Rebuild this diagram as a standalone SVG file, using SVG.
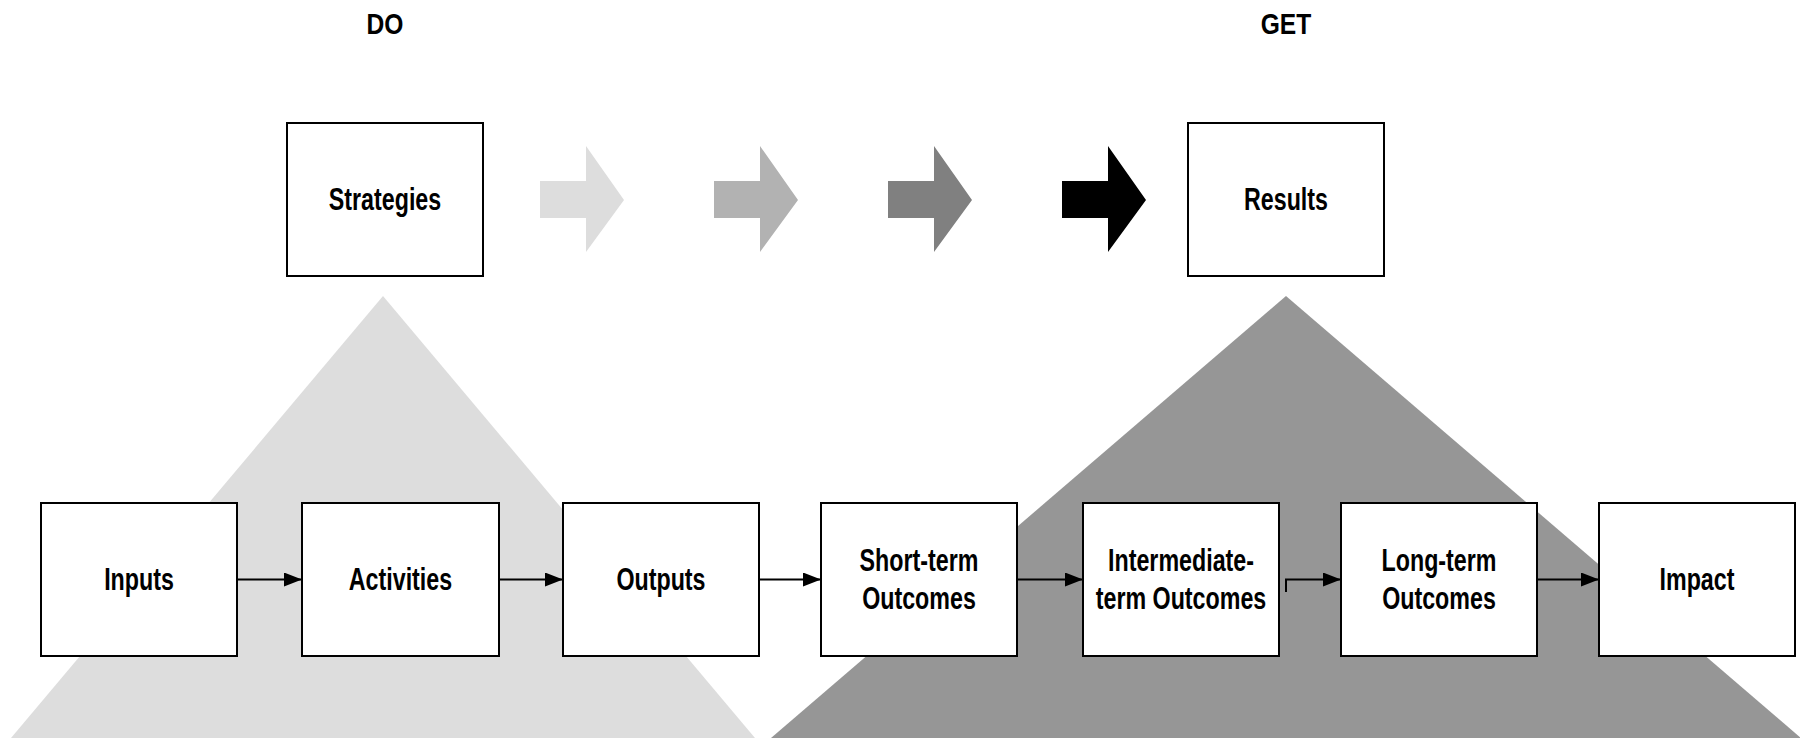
<svg xmlns="http://www.w3.org/2000/svg" width="1800" height="738" viewBox="0 0 1800 738">
<style>
.box{fill:#fff;stroke:#000;stroke-width:2}
.lbl{font-family:"Liberation Sans",Arial,sans-serif;font-weight:bold;font-size:31px;text-anchor:middle;fill:#000}
.hd{font-family:"Liberation Sans",Arial,sans-serif;font-weight:bold;font-size:30px;text-anchor:middle;fill:#000}
.conn{fill:none;stroke:#000;stroke-width:2;marker-end:url(#ah)}
</style>
<defs>
<marker id="ah" markerUnits="userSpaceOnUse" markerWidth="18" markerHeight="15" refX="18" refY="7" orient="auto">
<path d="M0,0 L18,7 L0,14 Z" fill="#000"/>
</marker>
</defs>
<rect width="1800" height="738" fill="#fff"/>
<g id="background">
<polygon points="383,296 11,738 755,738" fill="#dddddd"/>
<polygon points="1286,296 771,738 1801,738" fill="#969696"/>
<polygon points="540,181 586,181 586,146 624,200 586,252 586,218 540,218" fill="#dddddd"/>
<polygon points="714,181 760,181 760,146 798,200 760,252 760,218 714,218" fill="#b2b2b2"/>
<polygon points="888,181 934,181 934,146 972,200 934,252 934,218 888,218" fill="#808080"/>
<polygon points="1062,181 1108,181 1108,146 1146,200 1108,252 1108,218 1062,218" fill="#000000"/>
</g>
<g id="heading-do"><text class="hd" transform="translate(385,34) scale(0.82,1)">DO</text></g>
<g id="heading-get"><text class="hd" transform="translate(1286,34) scale(0.82,1)">GET</text></g>
<g id="strategies"><rect class="box" x="287" y="123" width="196" height="153"/><text class="lbl" transform="translate(385,210) scale(0.75,1)">Strategies</text></g>
<g id="results"><rect class="box" x="1188" y="123" width="196" height="153"/><text class="lbl" transform="translate(1286,210) scale(0.75,1)">Results</text></g>
<g id="connectors">
<path class="conn" d="M237,579.5 H302"/>
<path class="conn" d="M499,579.5 H563"/>
<path class="conn" d="M759,579.5 H821"/>
<path class="conn" d="M1017,579.5 H1083"/>
<path class="conn" d="M1286,592 V579.5 H1341"/>
<path class="conn" d="M1537,579.5 H1599"/>
</g>
<g id="inputs"><rect class="box" x="41" y="503" width="196" height="153"/><text class="lbl" transform="translate(139,590) scale(0.75,1)">Inputs</text></g>
<g id="activities"><rect class="box" x="302" y="503" width="197" height="153"/><text class="lbl" transform="translate(400.5,590) scale(0.75,1)">Activities</text></g>
<g id="outputs"><rect class="box" x="563" y="503" width="196" height="153"/><text class="lbl" transform="translate(661,590) scale(0.75,1)">Outputs</text></g>
<g id="short-term"><rect class="box" x="821" y="503" width="196" height="153"/><text class="lbl" transform="translate(919,571) scale(0.75,1)">Short-term</text><text class="lbl" transform="translate(919,609) scale(0.75,1)">Outcomes</text></g>
<g id="intermediate-term"><rect class="box" x="1083" y="503" width="196" height="153"/><text class="lbl" transform="translate(1181,571) scale(0.75,1)">Intermediate-</text><text class="lbl" transform="translate(1181,609) scale(0.75,1)">term Outcomes</text></g>
<g id="long-term"><rect class="box" x="1341" y="503" width="196" height="153"/><text class="lbl" transform="translate(1439,571) scale(0.75,1)">Long-term</text><text class="lbl" transform="translate(1439,609) scale(0.75,1)">Outcomes</text></g>
<g id="impact"><rect class="box" x="1599" y="503" width="196" height="153"/><text class="lbl" transform="translate(1697,590) scale(0.75,1)">Impact</text></g>
</svg>
